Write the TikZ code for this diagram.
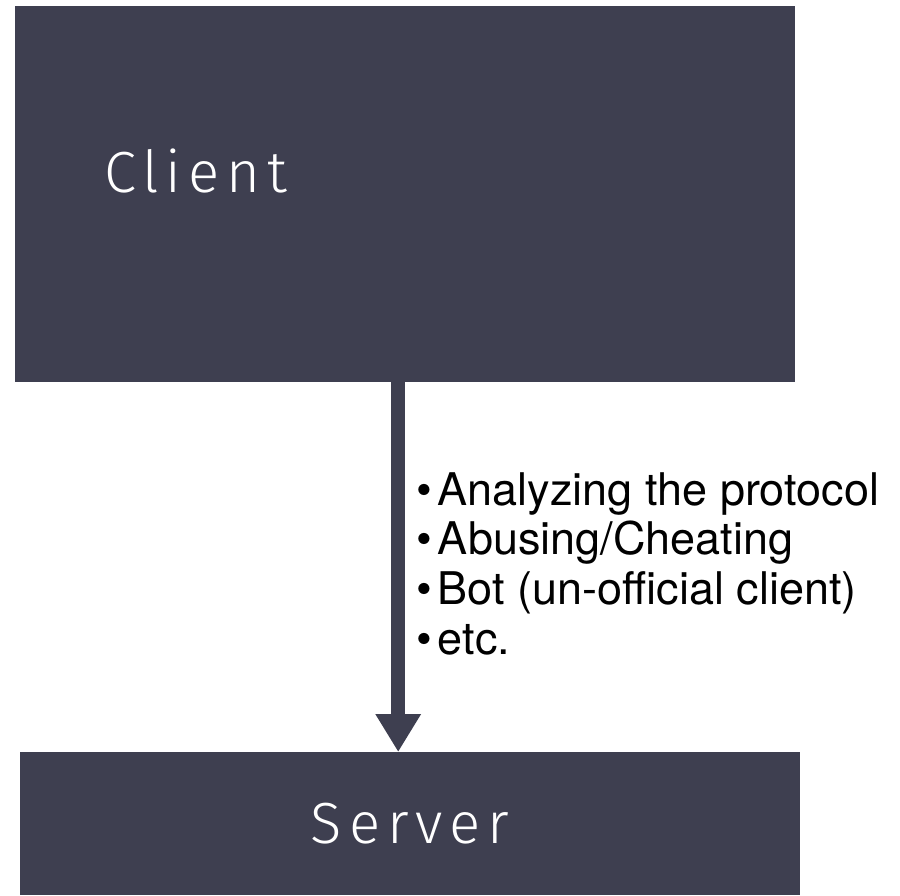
\documentclass[tikz,border=0pt]{standalone}
\usepackage{fontspec}
\setmainfont{TeX Gyre Heros}
\newfontfamily\lightfont[LetterSpace=12]{Fira Sans Light}
\usetikzlibrary{arrows.meta,positioning}
\definecolor{boxgrey}{RGB}{62,63,80}

\begin{document}
\begin{tikzpicture}[x=1pt, y=-1pt,
    block/.style={rectangle, fill=boxgrey, inner sep=0pt, minimum width=780pt,
        text=white, font=\lightfont\fontsize{58}{62}\selectfont},
    flow/.style={-{Triangle[width=43pt,length=38pt]}, line width=14pt, draw=boxgrey},
    notes/.style={align=left, inner sep=0pt, font=\fontsize{45}{49.7}\selectfont}
]
\useasboundingbox (0,0) rectangle (900,895);
\node[block, minimum height=376pt, anchor=north west] (client) at (15,6) {};
\node[block, minimum height=143pt, anchor=north west] (server) at (20,752) {Server};
\node[block, fill=none, minimum width=0pt, anchor=base west] (clientlabel) at (104,192) {Client};

% client -> server
\draw[flow] ([xshift=-7pt]client.south) -- ([xshift=-7pt]client.south |- server.north);

\node[notes, anchor=north west] (attacks) at (416,472) {%
    \textbullet\hspace{6pt}Analyzing the protocol\\
    \textbullet\hspace{6pt}Abusing/Cheating\\
    \textbullet\hspace{6pt}Bot (un-official client)\\
    \textbullet\hspace{6pt}etc.};
\end{tikzpicture}
\end{document}
